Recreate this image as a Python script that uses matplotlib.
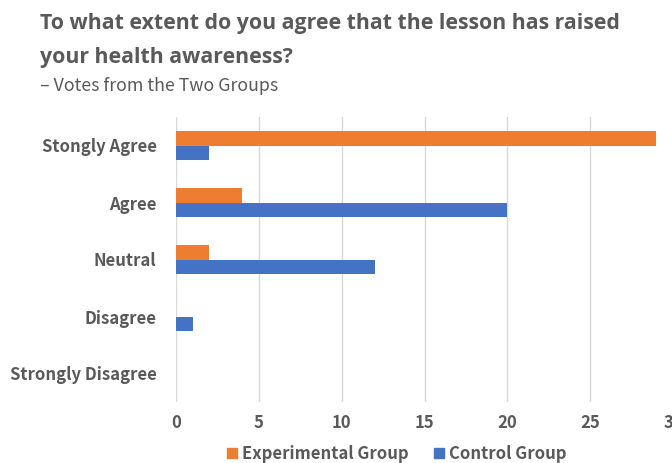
import matplotlib
matplotlib.use("Agg")
import matplotlib.pyplot as plt
import numpy as np
from matplotlib.patches import Patch

categories = ["Stongly Agree", "Agree", "Neutral", "Disagree", "Strongly Disagree"]
experimental = [29, 4, 2, 0, 0]
control = [2, 20, 12, 1, 0]
xticks = [0, 5, 10, 15, 20, 25, 30]

plt.rcParams['font.family'] = ['Noto Sans CJK SC', 'DejaVu Sans']
W, H = 672, 463
fig = plt.figure(figsize=(W/100, H/100), dpi=100)
TXT = "#595959"

# axes: x from 176 to 673 px, y from 117 to 402 px
ax = fig.add_axes([176/W, 1-402/H, (673-176)/W, (402-117)/H])
y = np.arange(len(categories))
bh = 0.26
ax.barh(y - bh/2, experimental, height=bh, color="#ED7D31", zorder=3)
ax.barh(y + bh/2, control, height=bh, color="#4472C4", zorder=3)
ax.set_ylim(len(categories)-0.5, -0.5)
ax.set_xlim(0, 30)
ax.set_yticks(y)
ax.set_yticklabels(categories, fontsize=12, fontweight='bold', color=TXT)
ax.set_xticks(xticks)
ax.set_xticklabels([str(t) for t in xticks], fontsize=12, fontweight='bold', color=TXT)
ax.tick_params(axis='both', length=0)
ax.tick_params(axis='y', pad=14)
ax.tick_params(axis='x', pad=9)
ax.grid(axis='x', color="#D9D9D9", linewidth=1, zorder=0)
for s in ax.spines.values():
    s.set_visible(False)

tfont = ['Open Sans', 'DejaVu Sans']
fig.text(40/W, 1-24/H, "To what extent do you agree that the lesson has raised",
         fontsize=15.3, fontweight='bold', family=tfont, color=TXT, va='center', ha='left')
fig.text(40/W, 1-58/H, "your health awareness?",
         fontsize=15.3, fontweight='bold', family=tfont, color=TXT, va='center', ha='left')
fig.text(40/W, 1-86/H, "– Votes from the Two Groups",
         fontsize=12.8, family=['Noto Sans CJK SC', 'DejaVu Sans'], color=TXT, va='center', ha='left')

handles = [Patch(color="#ED7D31", label="Experimental Group"),
           Patch(color="#4472C4", label="Control Group")]
leg = fig.legend(handles=handles, loc='center', bbox_to_anchor=(397/W, 1-454/H),
                 ncol=2, frameon=False, handlelength=0.6, handleheight=0.6,
                 handletextpad=0.3, columnspacing=1.5,
                 prop={'size': 12, 'weight': 'bold'})
for t in leg.get_texts():
    t.set_color(TXT)

fig.savefig("out.png", dpi=100)
